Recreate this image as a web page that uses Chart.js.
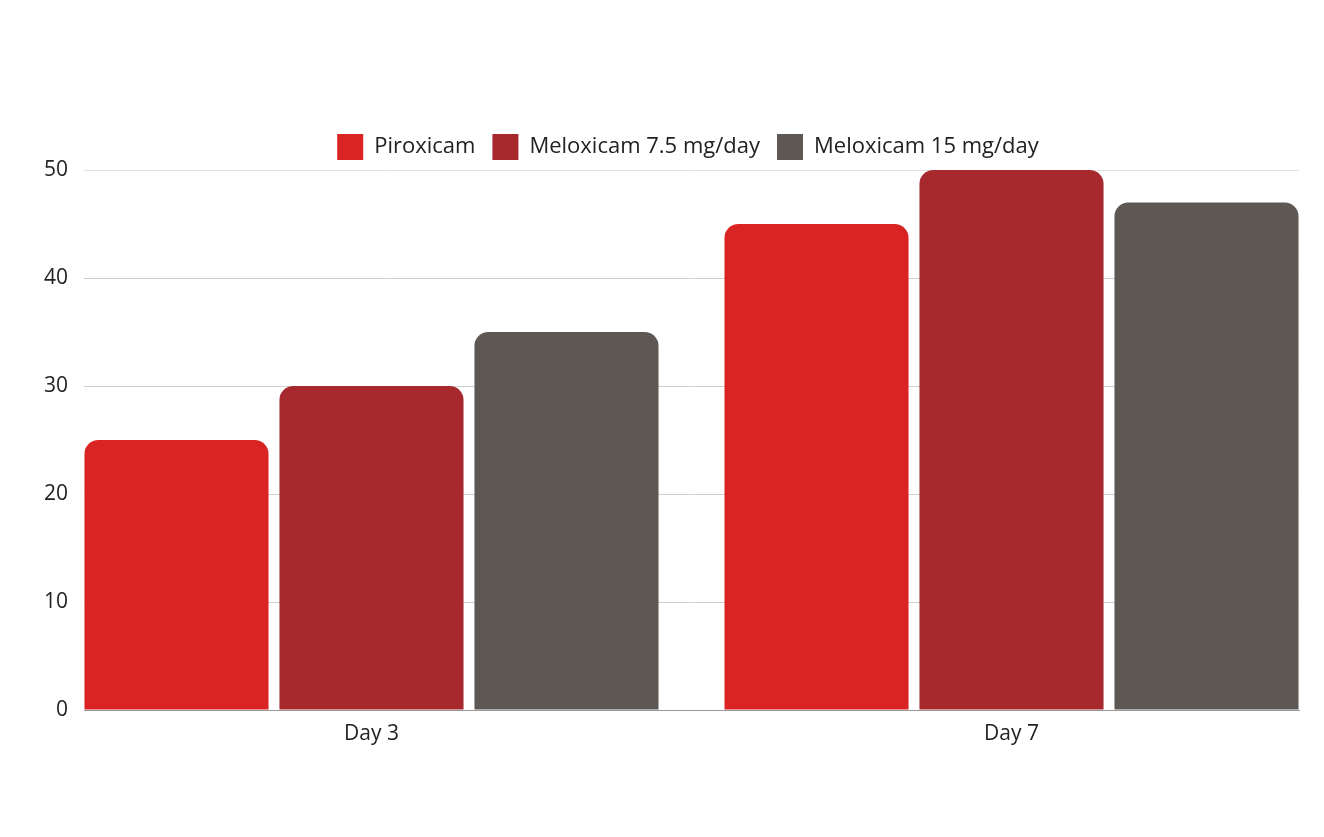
<!DOCTYPE html>
<html>
<head>
<meta charset="utf-8">
<script src="https://cdn.jsdelivr.net/npm/chart.js@4"></script>
<style>
  html, body { margin: 0; padding: 0; background: #fff; }
  #wrap { width: 1324px; height: 837px; }
</style>
</head>
<body>
<div id="wrap"><canvas id="chart"></canvas></div>
<script>
// data
const categories = ["Day 3", "Day 7"];
const seriesNames = ["Piroxicam", "Meloxicam 7.5 mg/day", "Meloxicam 15 mg/day"];
const piroxicam = [25, 45];
const meloxicam75 = [30, 50];
const meloxicam15 = [35, 47];
const yTicks = [0, 10, 20, 30, 40, 50];

const colors = ["#DA2323", "#A7282D", "#5E5855"];
const allSeries = [piroxicam, meloxicam75, meloxicam15];

// linear index axis so the groups can sit right against the plot edges
function toPoints(values) {
    return values.map((v, i) => ({ x: i, y: v }));
}

const datasets = allSeries.map((vals, k) => ({
    label: seriesNames[k],
    data: toPoints(vals),
    backgroundColor: colors[k],
    borderWidth: 0,
    borderRadius: 14,
    categoryPercentage: 0.914,
    barPercentage: 0.944
}));

const FONT = "'Open Sans', 'Noto Sans', sans-serif";

// legend is centred over the plot, not the whole canvas
const shiftLegend = {
    id: "shiftLegend",
    beforeDraw(chart) {
        chart.legend.left = 77;
    }
};

new Chart(document.getElementById("chart"), {
    type: "bar",
    data: { datasets: datasets },
    plugins: [shiftLegend],
    options: {
        responsive: true,
        maintainAspectRatio: false,
        animation: false,
        layout: { padding: { top: 117, right: 25, bottom: 0, left: 0 } },
        plugins: {
            legend: {
                position: "top",
                labels: {
                    boxWidth: 26,
                    boxHeight: 26,
                    padding: 17,
                    color: "#222",
                    font: { family: FONT, size: 22 }
                }
            },
            tooltip: { enabled: false }
        },
        scales: {
            x: {
                type: "linear",
                offset: false,
                min: -0.4492,
                max: 1.4492,
                afterBuildTicks: (scale) => {
                    scale.ticks = categories.map((c, i) => ({ value: i }));
                },
                afterFit: (scale) => { scale.height = 127; },
                ticks: {
                    callback: (v) => categories[v],
                    color: "#222",
                    padding: 3,
                    maxRotation: 0,
                    font: { family: FONT, size: 21 }
                },
                grid: { display: false },
                border: { display: true, color: "#999", width: 1 }
            },
            y: {
                min: yTicks[0],
                max: yTicks[yTicks.length - 1],
                afterFit: (scale) => { scale.width = 84; },
                afterBuildTicks: (scale) => {
                    scale.ticks = yTicks.map(v => ({ value: v }));
                },
                ticks: {
                    color: "#222",
                    padding: 16,
                    font: { family: FONT, size: 21 }
                },
                grid: {
                    color: (ctx) => ctx.tick && ctx.tick.value === 50 ? "#e0e0e0" : "#cfcfcf",
                    drawTicks: false
                },
                border: { display: false }
            }
        }
    }
});
</script>
</body>
</html>
